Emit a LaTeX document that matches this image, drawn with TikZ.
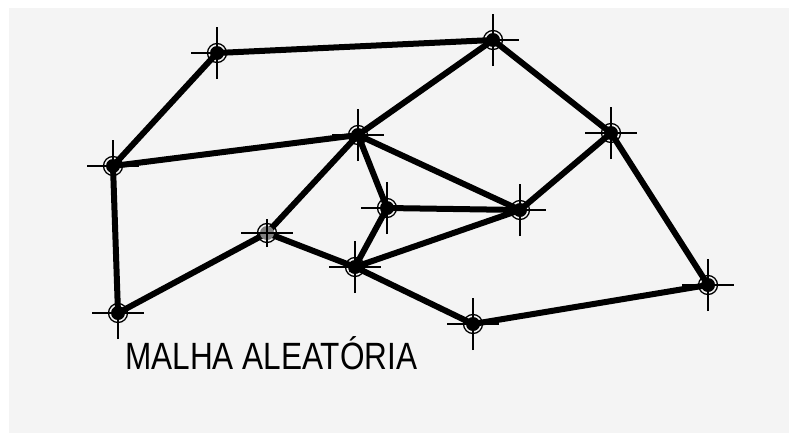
\documentclass[tikz,border=0pt]{standalone}
\usepackage{fontspec}
\setmainfont{Liberation Sans}
\usepackage{xcolor}
\definecolor{paper}{HTML}{F4F4F4}
\usetikzlibrary{arrows}

\begin{document}
\begin{tikzpicture}[x=1pt,y=-1pt,line cap=round]
            \tikzstyle{knot}=[circle,draw,line width=1.3pt,inner sep=0pt,minimum size=19pt]
            \tikzstyle{rod}=[line width=6pt]
            \tikzstyle{hair}=[line width=1.5pt,line cap=butt]

            \fill[white] (0,0) rectangle (792,434);
            \fill[paper] (9,8) rectangle (789,433);

            \node[knot] (tl) at (217,53)  {};
            \node[knot] (tp) at (493,40)  {};
            \node[knot] (rt) at (611,133) {};
            \node[knot] (lf) at (113,166) {};
            \node[knot] (ct) at (358,135) {};
            \node[knot] (cs) at (387,208) {};
            \node[knot] (cr) at (520,210) {};
            \node[knot] (lm) at (267,233) {};
            \node[knot] (cb) at (355,267) {};
            \node[knot] (bl) at (118,313) {};
            \node[knot] (bm) at (473,324) {};
            \node[knot] (br) at (708,285) {};

            \draw[rod] (lf.center) -- (tl.center) -- (tp.center) -- (rt.center) -- (br.center)
                       -- (bm.center) -- (cb.center) -- (lm.center) -- (bl.center) -- (lf.center) -- (ct.center);
            \draw[rod] (tp.center) -- (ct.center) -- (lm.center);
            \draw[rod] (ct.center) -- (cs.center) -- (cb.center) -- (cr.center) -- (ct.center);
            \draw[rod] (cs.center) -- (cr.center) -- (rt.center);

            \foreach \n in {tl,tp,rt,lf,ct,cs,cr,cb,bl,bm,br}{
                \fill (\n.center) circle (7pt);
                \draw[hair] ([xshift=-26pt]\n.center) -- ([xshift=26pt]\n.center);
                \draw[hair] ([yshift=-26pt]\n.center) -- ([yshift=26pt]\n.center);
            }
            \fill[gray] (lm.center) circle (7pt);
            \draw[hair] ([xshift=-26pt]lm.center) -- ([xshift=26pt]lm.center);
            \draw[hair] ([yshift=-14pt]lm.center) -- ([yshift=14pt]lm.center);

            \node[anchor=base west,inner sep=0pt,font=\fontsize{38}{38}\selectfont] (title) at (125,369)
                {\scalebox{0.83}[1]{MALHA ALEATÓRIA}};
        \end{tikzpicture}
\end{document}
